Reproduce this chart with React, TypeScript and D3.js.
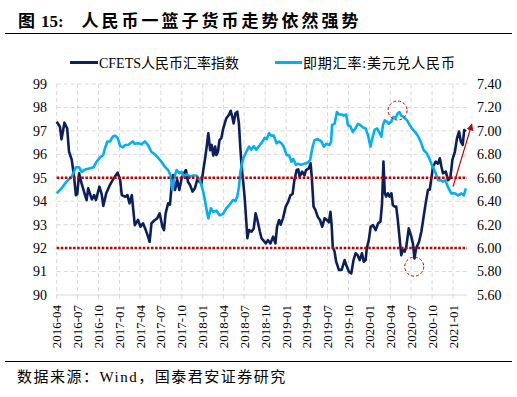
import React from 'react';
import * as d3 from 'd3';

const W = 517;
const H = 397;

const titlePrefix = '图';
const titleNumber = '15:';
const titleText = '人民币一篮子货币走势依然强势';
const sourceText = '数据来源：Wind，国泰君安证券研究';
const seriesNames = ['CFETS人民币汇率指数', '即期汇率:美元兑人民币'];

const tickLabels = [
  '2016-04', '2016-07', '2016-10', '2017-01', '2017-04', '2017-07', '2017-10',
  '2018-01', '2018-04', '2018-07', '2018-10', '2019-01', '2019-04', '2019-07',
  '2019-10', '2020-01', '2020-04', '2020-07', '2020-10', '2021-01',
];
const leftTicks = [90, 91, 92, 93, 94, 95, 96, 97, 98, 99];
const rightTicks = [5.6, 5.8, 6.0, 6.2, 6.4, 6.6, 6.8, 7.0, 7.2, 7.4];
const referenceLevels = [95, 92];

const cfetsDates = [
  '2016-04-01','2016-04-15','2016-04-22','2016-05-05','2016-05-17','2016-05-25','2016-06-06','2016-06-16','2016-06-24','2016-06-30',
  '2016-07-08','2016-07-19','2016-08-03','2016-08-10','2016-08-17','2016-09-02','2016-09-12','2016-09-20','2016-10-05','2016-10-15',
  '2016-10-22','2016-11-04','2016-11-18','2016-12-02','2016-12-12','2016-12-24','2017-01-04','2017-01-11','2017-01-26','2017-02-05',
  '2017-02-14','2017-02-24','2017-03-01','2017-03-09','2017-03-23','2017-04-03','2017-04-14','2017-04-26','2017-05-06','2017-05-13',
  '2017-05-21','2017-06-05','2017-06-15','2017-06-26','2017-07-08','2017-07-15','2017-07-22','2017-08-02','2017-08-10','2017-08-17',
  '2017-08-24','2017-09-01','2017-09-11','2017-09-20','2017-09-30','2017-10-10','2017-10-19','2017-10-28','2017-11-06','2017-11-17',
  '2017-11-27','2017-12-07','2017-12-19','2017-12-26','2018-01-03','2018-01-10','2018-01-18','2018-01-25','2018-02-02','2018-02-09',
  '2018-02-16','2018-02-24','2018-03-01','2018-03-08','2018-03-15','2018-03-23','2018-03-30','2018-04-07','2018-04-14','2018-04-25',
  '2018-05-03','2018-05-10','2018-05-16','2018-05-24','2018-06-01','2018-06-08','2018-06-14','2018-06-20','2018-06-26','2018-07-03',
  '2018-07-10','2018-07-15','2018-07-22','2018-08-02','2018-08-12','2018-08-20','2018-08-28','2018-09-08','2018-09-15','2018-09-22',
  '2018-10-04','2018-10-13','2018-10-24','2018-11-05','2018-11-15','2018-11-22','2018-12-01','2018-12-08','2018-12-18','2018-12-30',
  '2019-01-10','2019-01-20','2019-01-29','2019-02-06','2019-02-16','2019-02-23','2019-03-01','2019-03-12','2019-03-22','2019-03-29',
  '2019-04-10','2019-04-18','2019-04-23','2019-05-01','2019-05-09','2019-05-19','2019-05-29','2019-06-08','2019-06-18','2019-06-28',
  '2019-07-07','2019-07-14','2019-07-19','2019-07-24','2019-08-01','2019-08-08','2019-08-20','2019-09-01','2019-09-14','2019-09-24',
  '2019-10-03','2019-10-13','2019-10-23','2019-11-01','2019-11-10','2019-11-19','2019-11-29','2019-12-07','2019-12-15','2019-12-20',
  '2019-12-29','2020-01-06','2020-01-16','2020-01-28','2020-02-08','2020-02-18','2020-02-25','2020-03-02','2020-03-08','2020-03-14',
  '2020-03-21','2020-03-28','2020-04-06','2020-04-12','2020-04-20','2020-04-27','2020-05-04','2020-05-11','2020-05-19','2020-05-26',
  '2020-06-03','2020-06-10','2020-06-21','2020-07-02','2020-07-09','2020-07-16','2020-07-23','2020-08-05','2020-08-15','2020-08-25',
  '2020-09-03','2020-09-13','2020-09-21','2020-09-28','2020-10-05','2020-10-17','2020-10-27','2020-11-04','2020-11-11','2020-11-18',
  '2020-11-30','2020-12-10','2020-12-20','2020-12-29','2021-01-09','2021-01-18','2021-01-27','2021-02-04','2021-02-12','2021-02-19',
  '2021-02-26',
];
const cfetsValues = [
  97.39,97.18,96.64,97.35,97.1,96.11,95.76,95.05,94.26,94.3,
  95.19,94.76,94.26,94.05,94.55,94.08,94.26,94.05,94.62,94.3,
  93.8,94.34,94.65,94.9,95.05,95.22,94.9,94.26,94.19,94.26,
  93.91,94.26,93.77,92.98,93.2,92.91,93.06,92.77,92.49,92.27,
  93.06,93.2,93.27,93.48,92.91,92.77,93.48,93.91,93.85,94.62,
  95.12,94.48,94.9,94.48,94.97,95.19,95.33,94.83,94.69,94.41,
  94.55,94.9,94.83,94.75,95.33,95.76,96.33,96.9,96.18,96.4,
  95.95,96.33,95.97,96.1,96.61,96.69,97.04,97.32,97.54,97.68,
  97.86,97.6,97.32,97.75,97.82,97.32,96.33,95.47,94.9,94.19,
  93.2,92.42,92.77,92.7,92.84,93.48,93.2,92.7,92.42,92.34,
  92.2,92.34,92.2,92.49,92.2,92.91,93.2,93.0,93.27,93.77,
  93.98,94.26,94.3,94.9,95.33,95.36,95.05,95.26,95.1,95.33,
  95.4,95.62,95.05,93.77,93.63,93.34,93.2,92.91,93.27,93.2,
  93.1,93.55,93.0,92.06,91.85,91.42,91.07,91.07,91.49,91.2,
  90.99,90.92,91.49,91.78,91.7,91.49,91.78,91.42,91.49,91.99,
  92.34,92.91,92.98,92.77,93.06,93.13,93.91,95.69,94.34,94.2,
  94.34,94.2,94.34,93.84,93.77,93.77,93.2,92.49,91.7,91.92,
  91.85,92.06,92.84,92.49,92.2,91.56,91.99,92.27,92.7,93.34,
  93.91,94.48,94.5,94.97,95.47,95.69,95.6,95.83,95.47,95.19,
  95.26,94.9,95.0,95.76,96.11,96.68,96.97,96.54,96.4,97.04,
  96.97,
];

const usdDates = [
  '2016-04-01','2016-04-22','2016-05-14','2016-06-06','2016-06-24','2016-07-08','2016-07-19','2016-08-03','2016-08-22','2016-09-09',
  '2016-09-23','2016-10-08','2016-10-22','2016-10-29','2016-11-09','2016-11-21','2016-12-02','2016-12-12','2016-12-24','2017-01-04',
  '2017-01-16','2017-01-26','2017-02-08','2017-02-17','2017-02-28','2017-03-09','2017-03-23','2017-04-08','2017-04-22','2017-05-06',
  '2017-05-21','2017-06-05','2017-06-19','2017-07-04','2017-07-18','2017-08-02','2017-08-13','2017-08-21','2017-09-01','2017-09-08',
  '2017-09-20','2017-09-30','2017-10-10','2017-10-23','2017-11-06','2017-11-20','2017-12-05','2017-12-19','2018-01-01','2018-01-10',
  '2018-01-20','2018-01-25','2018-02-05','2018-02-16','2018-03-01','2018-03-15','2018-03-30','2018-04-14','2018-04-28','2018-05-13',
  '2018-05-24','2018-06-01','2018-06-08','2018-06-14','2018-06-21','2018-06-28','2018-07-10','2018-07-22','2018-08-02','2018-08-12',
  '2018-08-23','2018-09-08','2018-09-19','2018-09-29','2018-10-08','2018-10-18','2018-10-28','2018-11-08','2018-11-20','2018-12-01',
  '2018-12-11','2018-12-21','2019-01-03','2019-01-14','2019-01-24','2019-02-01','2019-02-13','2019-02-23','2019-03-07','2019-03-22',
  '2019-04-06','2019-04-16','2019-04-25','2019-05-05','2019-05-19','2019-06-04','2019-06-15','2019-06-25','2019-07-10','2019-07-17',
  '2019-07-21','2019-08-01','2019-08-11','2019-08-20','2019-09-01','2019-09-10','2019-09-21','2019-09-28','2019-10-09','2019-10-20',
  '2019-10-31','2019-11-11','2019-11-21','2019-12-03','2019-12-15','2019-12-25','2020-01-05','2020-01-14','2020-01-24','2020-02-04',
  '2020-02-12','2020-02-22','2020-02-29','2020-03-08','2020-03-17','2020-03-25','2020-04-06','2020-04-15','2020-04-24','2020-05-04',
  '2020-05-11','2020-05-19','2020-05-29','2020-06-13','2020-06-25','2020-07-09','2020-07-23','2020-08-05','2020-08-15','2020-08-25',
  '2020-09-07','2020-09-18','2020-09-28','2020-10-05','2020-10-17','2020-10-27','2020-11-07','2020-11-18','2020-11-28','2020-12-10',
  '2020-12-24','2021-01-09','2021-01-23','2021-02-07','2021-02-17','2021-02-26',
];
const usdValues = [
  6.467,6.51,6.567,6.61,6.69,6.69,6.65,6.67,6.68,6.69,
  6.737,6.775,6.794,6.85,6.91,6.91,6.95,6.96,6.94,6.87,
  6.86,6.88,6.88,6.894,6.91,6.89,6.894,6.885,6.91,6.88,
  6.82,6.80,6.77,6.737,6.695,6.666,6.62,6.50,6.62,6.666,
  6.64,6.65,6.61,6.63,6.61,6.62,6.62,6.58,6.495,6.41,
  6.297,6.254,6.34,6.31,6.32,6.28,6.29,6.34,6.37,6.41,
  6.40,6.44,6.52,6.64,6.72,6.77,6.82,6.866,6.84,6.87,
  6.84,6.88,6.91,6.94,6.93,6.98,6.96,6.96,6.894,6.91,
  6.894,6.866,6.794,6.79,6.737,6.76,6.71,6.72,6.71,6.72,
  6.73,6.75,6.85,6.92,6.93,6.91,6.866,6.89,6.88,6.91,
  7.05,7.06,7.16,7.14,7.14,7.13,7.14,7.05,7.04,6.99,
  7.02,7.06,7.05,7.03,7.02,6.965,6.866,6.94,7.01,7.02,
  6.99,6.95,7.05,7.09,7.08,7.06,7.08,7.12,7.11,7.15,
  7.16,7.13,7.12,7.09,7.05,7.01,6.98,6.94,6.894,6.837,
  6.81,6.77,6.72,6.69,6.64,6.58,6.58,6.567,6.58,6.52,
  6.467,6.467,6.45,6.467,6.45,6.51,
];

// annotation anchors (date, value on the indicated axis)
const circleDates = ['2020-05-03', '2020-07-15'];
const circleValues = [7.174, 91.21];
const circleAxes = ['right', 'left'];
const arrowDates = ['2021-01-01', '2021-03-24'];
const arrowValues = [94.62, 97.29];

const DARK = '#0b1f5b';
const LIGHT = '#00b0f0';
const RED = '#c00000';
const GRID = '#d9d9d9';
const SERIF = "'Liberation Serif', 'Times New Roman', 'Noto Sans CJK SC', serif";
const CJK = "'Liberation Serif', 'Noto Sans CJK SC', serif";

export default function App() {
  const parse = d3.timeParse('%Y-%m-%d');
  const x = d3.scaleTime()
    .domain([parse('2016-04-01') as Date, parse('2021-03-03') as Date])
    .range([56.7, 467]);
  const yL = d3.scaleLinear().domain([90, 99]).range([295, 84]);
  const yR = d3.scaleLinear().domain([5.6, 7.4]).range([295, 84]);

  const cfets = cfetsDates.map((d, i) => ({ d: parse(d) as Date, v: cfetsValues[i] }));
  const usd = usdDates.map((d, i) => ({ d: parse(d) as Date, v: usdValues[i] }));

  const lineL = d3.line<{ d: Date; v: number }>().x(p => x(p.d)).y(p => yL(p.v));
  const lineR = d3.line<{ d: Date; v: number }>().x(p => x(p.d)).y(p => yR(p.v));

  const [x0, x1] = x.range();
  const [yBottom, yTop] = yL.range();
  const tickXs = tickLabels.map(t => x(parse(t + '-01') as Date));

  return (
    <svg width={W} height={H} style={{ position: 'absolute', left: 0, top: 0, background: '#fff' }}>
      <defs>
        <marker id="arrowHead" viewBox="0 0 10 10" refX="9" refY="5" markerWidth="7" markerHeight="7"
          orient="auto" markerUnits="userSpaceOnUse">
          <path d="M0,0 L10,5 L0,10 z" fill={RED} />
        </marker>
      </defs>

      {/* Title */}
      <text y={27} fontWeight="bold" fontSize={17} fill="#000">
        <tspan x={18} fontFamily="'Noto Sans CJK SC', sans-serif">{titlePrefix}</tspan>
        <tspan x={41} fontFamily={SERIF}>{titleNumber}</tspan>
        <tspan x={81.5} fontFamily="'Noto Sans CJK SC', sans-serif" letterSpacing={3}>{titleText}</tspan>
      </text>
      <line x1={5} x2={512} y1={33.5} y2={33.5} stroke="#000" strokeWidth={1} />

      {/* Legend */}
      <line x1={70} x2={98} y1={62.5} y2={62.5} stroke={DARK} strokeWidth={3} />
      <text x={99} y={67.5} fontSize={14} fontFamily={CJK} fill="#000">{seriesNames[0]}</text>
      <line x1={275} x2={302} y1={62.5} y2={62.5} stroke={LIGHT} strokeWidth={3} />
      <text x={303} y={67.5} fontSize={14} fontFamily={CJK} fill="#000" letterSpacing={0.8}>{seriesNames[1]}</text>

      {/* Grid */}
      {leftTicks.filter(t => t !== 90).map(t => (
        <line key={'h' + t} x1={x0} x2={x1} y1={yL(t)} y2={yL(t)} stroke={GRID} strokeWidth={1} strokeDasharray="4 3" />
      ))}
      {tickXs.map((tx, i) => (
        <line key={'v' + i} x1={tx} x2={tx} y1={yTop} y2={yBottom} stroke={GRID} strokeWidth={1} strokeDasharray="4 3" />
      ))}
      <line x1={x0} x2={x1} y1={yBottom} y2={yBottom} stroke={GRID} strokeWidth={1.2} />
      {tickXs.map((tx, i) => (
        <line key={'t' + i} x1={tx} x2={tx} y1={yBottom} y2={yBottom + 4} stroke={GRID} strokeWidth={1} />
      ))}

      {/* Left axis labels */}
      {leftTicks.map(t => (
        <text key={'l' + t} x={47} y={yL(t)} dy="0.35em" textAnchor="end" fontSize={14} fontFamily={SERIF} fill="#000">{t}</text>
      ))}
      {/* Right axis labels */}
      {rightTicks.map(t => (
        <text key={'r' + t} x={477} y={yR(t)} dy="0.35em" textAnchor="start" fontSize={14} fontFamily={SERIF} fill="#000">{t.toFixed(2)}</text>
      ))}
      {/* X labels */}
      {tickLabels.map((lab, i) => (
        <text key={'x' + i} transform={`translate(${tickXs[i]},305) rotate(-90)`} dy="0.35em" textAnchor="end"
          fontSize={13} fontFamily={SERIF} fill="#000">{lab}</text>
      ))}

      {/* Series */}
      <path d={lineL(cfets) || ''} fill="none" stroke={DARK} strokeWidth={2.6} strokeLinejoin="round" />
      <path d={lineR(usd) || ''} fill="none" stroke={LIGHT} strokeWidth={2.6} strokeLinejoin="round" />

      {/* Reference levels */}
      {referenceLevels.map(v => (
        <line key={'ref' + v} x1={x0} x2={x1} y1={yL(v)} y2={yL(v)} stroke={RED} strokeWidth={2.5} strokeDasharray="2.5 1.6" />
      ))}

      {/* Annotations */}
      {circleDates.map((d, i) => (
        <circle key={'c' + i} cx={x(parse(d) as Date)}
          cy={circleAxes[i] === 'right' ? yR(circleValues[i]) : yL(circleValues[i])}
          r={9.5} fill="none" stroke={RED} strokeWidth={1} strokeDasharray="3 2" />
      ))}
      <line x1={x(parse(arrowDates[0]) as Date)} y1={yL(arrowValues[0])}
        x2={x(parse(arrowDates[1]) as Date)} y2={yL(arrowValues[1])}
        stroke={RED} strokeWidth={1.2} markerEnd="url(#arrowHead)" />

      {/* Footer */}
      <line x1={5} x2={512} y1={361.5} y2={361.5} stroke="#000" strokeWidth={1} />
      <text x={17} y={382} fontSize={15} fontFamily={CJK} fill="#000" letterSpacing={1.5}>{sourceText}</text>
    </svg>
  );
}
